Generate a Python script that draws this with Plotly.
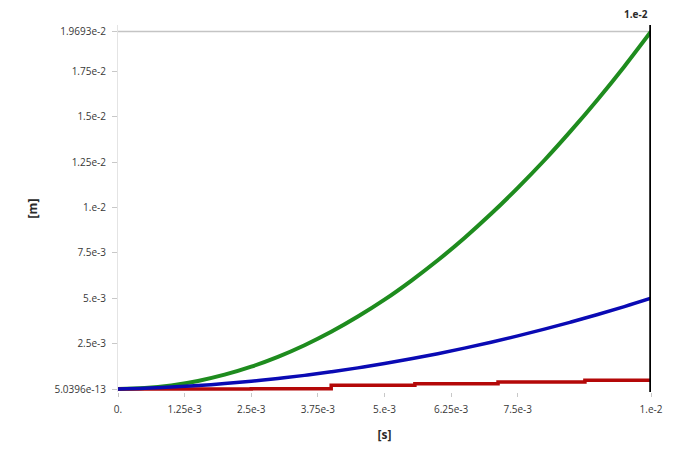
import plotly.graph_objects as go

# time [s]
t = [0.0, 0.5e-3, 1.0e-3, 1.5e-3, 2.0e-3, 2.5e-3, 3.0e-3, 3.5e-3, 4.0e-3, 4.5e-3, 5.0e-3,
     5.5e-3, 6.0e-3, 6.5e-3, 7.0e-3, 7.5e-3, 8.0e-3, 8.5e-3, 9.0e-3, 9.5e-3, 1.0e-2]

# green series [m]
green = [0.0, 0.049e-3, 0.197e-3, 0.443e-3, 0.788e-3, 1.23e-3, 1.77e-3, 2.41e-3, 3.15e-3, 3.99e-3,
         4.92e-3, 5.96e-3, 7.09e-3, 8.32e-3, 9.65e-3, 11.08e-3, 12.60e-3, 14.23e-3, 15.95e-3,
         17.77e-3, 19.693e-3]

# blue series [m]
blue = [0.0, 0.042e-3, 0.105e-3, 0.19e-3, 0.298e-3, 0.427e-3, 0.578e-3, 0.751e-3, 0.946e-3, 1.163e-3,
        1.40e-3, 1.663e-3, 1.946e-3, 2.251e-3, 2.578e-3, 2.927e-3, 3.298e-3, 3.69e-3, 4.105e-3,
        4.54e-3, 5.0e-3]

# red series [m] (stepped)
red_t = [0.0, 2.5e-3, 4.0e-3, 5.57e-3, 7.13e-3, 8.76e-3, 1.0e-2]
red = [0.0, 0.02e-3, 0.2e-3, 0.29e-3, 0.38e-3, 0.48e-3, 0.48e-3]

x_tickvals = [0.0, 1.25e-3, 2.5e-3, 3.75e-3, 5.0e-3, 6.25e-3, 7.5e-3, 1.0e-2]
x_ticktext = ["0.", "1.25e-3", "2.5e-3", "3.75e-3", "5.e-3", "6.25e-3", "7.5e-3", "1.e-2"]
y_tickvals = [5.0396e-13, 2.5e-3, 5.0e-3, 7.5e-3, 1.0e-2, 1.25e-2, 1.5e-2, 1.75e-2, 1.9693e-2]
y_ticktext = ["5.0396e-13", "2.5e-3", "5.e-3", "7.5e-3", "1.e-2", "1.25e-2", "1.5e-2", "1.75e-2", "1.9693e-2"]

cursor_x = 1.0e-2
cursor_label = "1.e-2"
y_top = 1.9693e-2

fig = go.Figure()
fig.add_trace(go.Scatter(x=t, y=green, mode="lines", line=dict(color="#1e8c1e", width=4),
                         line_shape="spline", showlegend=False))
fig.add_trace(go.Scatter(x=red_t, y=red, mode="lines", line=dict(color="#b40808", width=3.5),
                         line_shape="hv", showlegend=False))
fig.add_trace(go.Scatter(x=t, y=blue, mode="lines", line=dict(color="#0a0ab4", width=3.5),
                         line_shape="spline", showlegend=False))

fig.add_shape(type="line", xref="x", yref="y", x0=0, x1=cursor_x, y0=y_top, y1=y_top,
              line=dict(color="#c4c4c4", width=1.5), layer="below")
fig.add_shape(type="line", xref="x", yref="paper", x0=cursor_x, x1=cursor_x, y0=0, y1=1,
              line=dict(color="#000000", width=3.5))
fig.add_annotation(x=cursor_x, y=1, xref="x", yref="paper", text="<b>" + cursor_label + "</b>",
                   showarrow=False, xanchor="right", yanchor="bottom", xshift=-1, yshift=2,
                   font=dict(family="Open Sans", size=10, color="#2a2a2a"))

font = dict(family="Open Sans", size=10, color="#383838")
fig.update_layout(
    width=671, height=448,
    margin=dict(l=110, r=28, t=17, b=64),
    paper_bgcolor="white", plot_bgcolor="white",
    font=font,
    xaxis=dict(range=[0, 1.0e-2], tickvals=x_tickvals, ticktext=x_ticktext,
               showgrid=False, zeroline=False, showline=False,
               ticks="outside", ticklen=4, tickcolor="#c8c8c8", tickwidth=1,
               tickfont=font, ticklabelstandoff=4,
               title=dict(text="<b>[s]</b>", font=dict(family="Open Sans", size=12, color="#2a2a2a"),
                          standoff=15)),
    yaxis=dict(range=[-0.1653e-3, 20.051e-3], tickvals=y_tickvals, ticktext=y_ticktext,
               showgrid=False, zeroline=False, showline=True, linecolor="#e4e4e4", linewidth=1,
               ticks="outside", ticklen=5, tickcolor="#c8c8c8", tickwidth=1,
               tickfont=font, ticklabelstandoff=4,
               title=dict(text="<b>[m]</b>", font=dict(family="Open Sans", size=12, color="#2a2a2a"),
                          standoff=14)),
)

fig.write_html("out.html")
